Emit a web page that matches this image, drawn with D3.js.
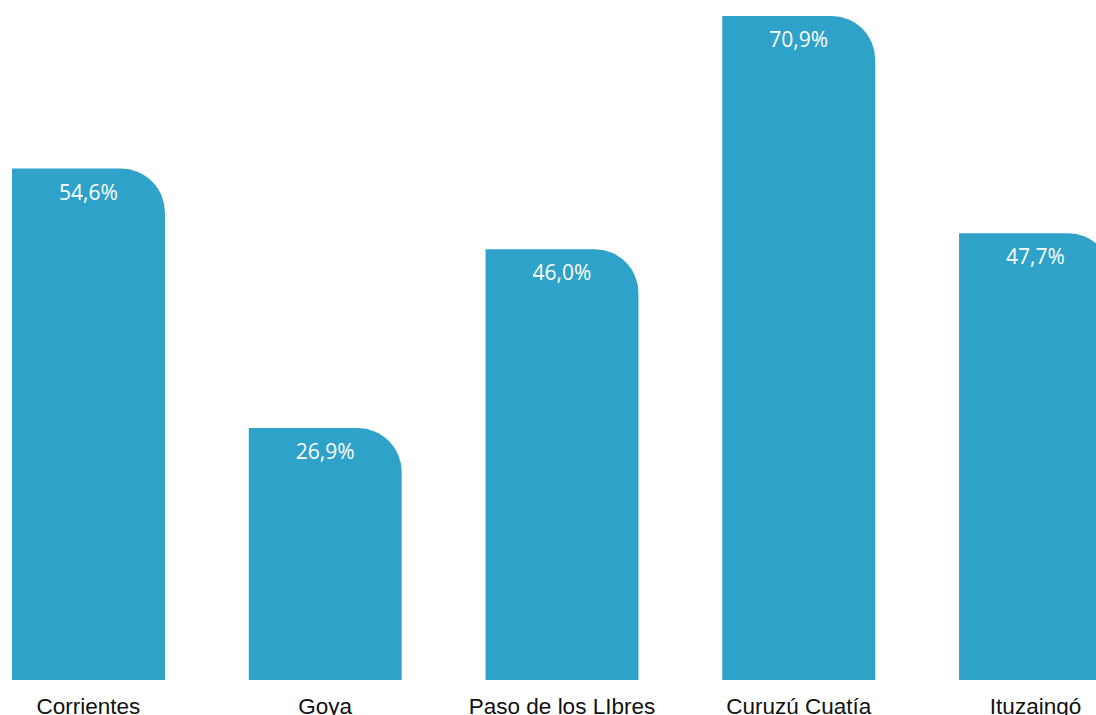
<!DOCTYPE html>
<html><head><meta charset="utf-8">
<script src="https://cdn.jsdelivr.net/npm/d3@7"></script>
<style>html,body{margin:0;padding:0;background:#fff;overflow:hidden}</style>
</head><body>
<svg id="chart" width="1096" height="715"></svg>
<script>
const categories = ["Corrientes", "Goya", "Paso de los LIbres", "Curuzú Cuatía", "Ituzaingó"];
const values = [54.6, 26.9, 46.0, 70.9, 47.7];
const valueLabels = ["54,6%", "26,9%", "46,0%", "70,9%", "47,7%"];

const svg = d3.select("#chart");
const x = d3.scaleBand().domain(categories).range([12, 1112]).paddingInner(0.354).paddingOuter(0);
const y = d3.scaleLinear().domain([0, 72.6]).range([680, 0]);
const r = 44;

function barPath(cat, v) {
  const x0 = x(cat), x1 = x0 + x.bandwidth(), y0 = y(0), y1 = y(v);
  const rr = Math.min(r, y0 - y1, x.bandwidth());
  return `M${x0},${y0}V${y1}H${x1 - rr}A${rr},${rr} 0 0 1 ${x1},${y1 + rr}V${y0}Z`;
}

svg.selectAll("path.bar").data(categories).join("path")
  .attr("class", "bar")
  .attr("d", (c, i) => barPath(c, values[i]))
  .attr("fill", "#2fa2c9");

svg.selectAll("text.val").data(categories).join("text")
  .attr("class", "val")
  .attr("x", c => x(c) + x.bandwidth() / 2)
  .attr("y", (c, i) => y(values[i]) + 31)
  .attr("text-anchor", "middle")
  .attr("fill", "#fff")
  .style("font-family", "'Open Sans', sans-serif")
  .style("font-size", "21px")
  .text((c, i) => valueLabels[i]);

svg.selectAll("text.cat").data(categories).join("text")
  .attr("class", "cat")
  .attr("x", c => x(c) + x.bandwidth() / 2)
  .attr("y", 714)
  .attr("text-anchor", "middle")
  .attr("fill", "#111")
  .style("font-family", "'Liberation Sans', Arial, sans-serif")
  .style("font-size", "22.5px")
  .text(c => c);
</script>
</body></html>
